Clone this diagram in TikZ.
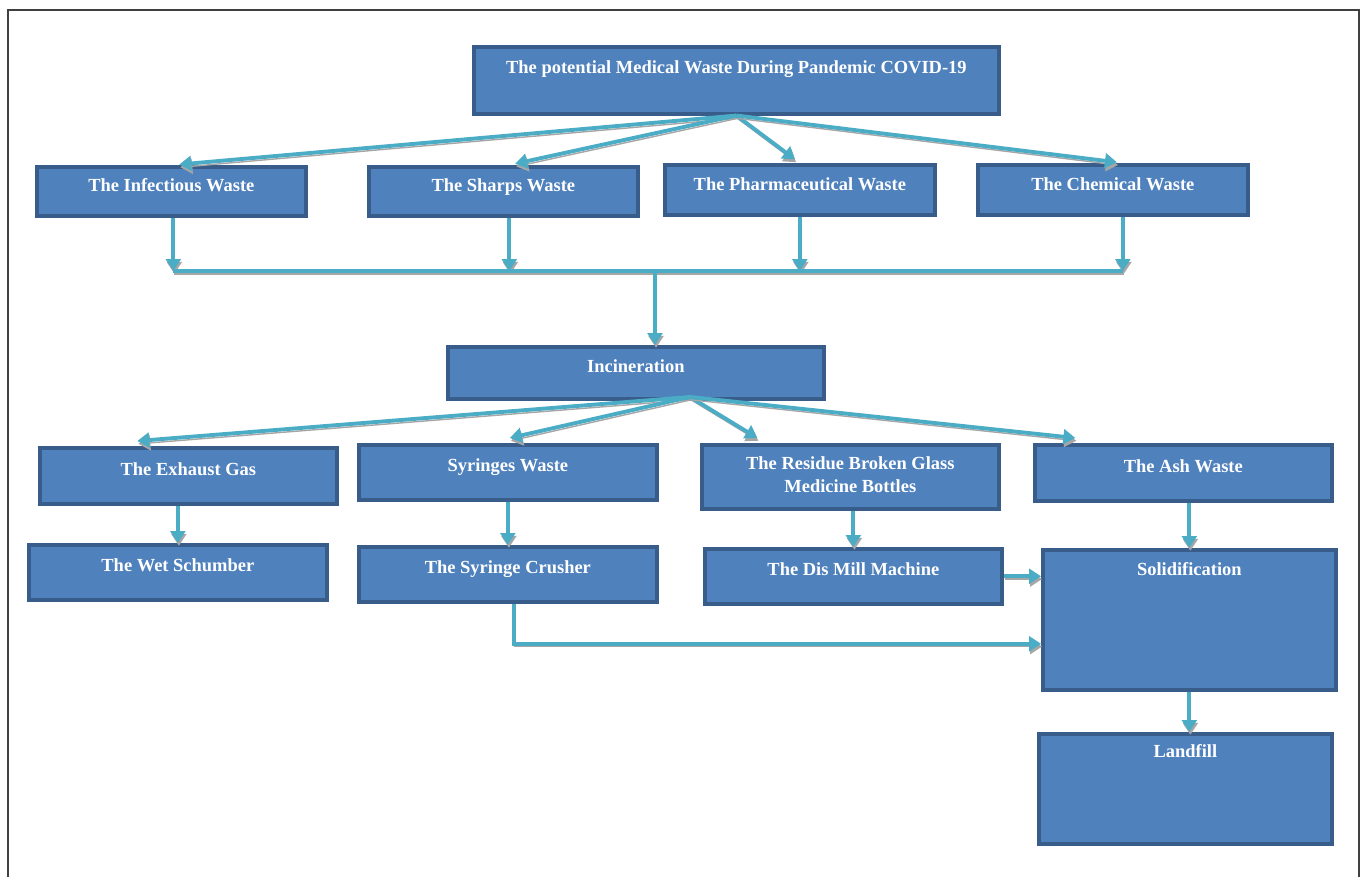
\documentclass[tikz,border=0pt]{standalone}
\usepackage{fontspec}
\setmainfont{Liberation Serif}
\usetikzlibrary{arrows.meta,positioning,calc}
\definecolor{boxfill}{HTML}{4F81BD}
\definecolor{boxline}{HTML}{385D8A}
\definecolor{flowcol}{HTML}{4BACC6}

\begin{document}
\begin{tikzpicture}[x=0.01cm,y=-0.01cm,
  box/.style={draw=boxline,fill=boxfill,line width=1pt,text=white,anchor=north west,
    inner sep=0pt,align=center,text depth=0.14cm,font=\fontsize{5.25}{6.5}\selectfont\bfseries},
  flowline/.style={draw=flowcol,line width=1.1pt,
    preaction={draw=black!35,transform canvas={shift={(0.3pt,-0.8pt)}}}},
  flow/.style={flowline,-{Triangle[length=3.4pt,width=4.2pt]}}]
\useasboundingbox (0,0) rectangle (1362,877);
\draw[black!75,line width=0.6pt] (8,877) -- (8,10) -- (1359,10) -- (1359,877);

% top level
\node[box,minimum width=5.25cm,text height=0.27cm,text depth=0.40cm] (top) at (472,45) {The potential Medical Waste During Pandemic COVID-19};
\node[box,minimum width=2.69cm,minimum height=0.49cm,text depth=0.12cm] (infect) at (35,165) {The Infectious Waste};
\node[box,minimum width=2.69cm,minimum height=0.49cm,text depth=0.12cm] (sharps) at (367,165) {The Sharps Waste};
\node[box,minimum width=2.70cm,minimum height=0.50cm,text depth=0.12cm] (pharma) at (663,163) {The Pharmaceutical Waste};
\node[box,minimum width=2.70cm,minimum height=0.50cm,text depth=0.12cm] (chem) at (976,163) {The Chemical Waste};

% incineration and its outputs
\node[box,minimum width=3.76cm,minimum height=0.52cm] (incin) at (446,345) {Incineration};
\node[box,minimum width=2.97cm,minimum height=0.56cm] (exhaust) at (38,446) {The Exhaust Gas};
\node[box,minimum width=2.98cm,minimum height=0.55cm] (syr) at (357,443) {Syringes Waste};
\node[box,minimum width=2.97cm,minimum height=0.64cm,text depth=0.04cm] (residue) at (700,443) {The Residue Broken Glass\\Medicine Bottles};
\node[box,minimum width=2.97cm,minimum height=0.56cm] (ash) at (1033,443) {The Ash Waste};

% treatment
\node[box,minimum width=2.98cm,minimum height=0.55cm] (wet) at (27,543) {The Wet Schumber};
\node[box,minimum width=2.98cm,minimum height=0.55cm] (crush) at (357,545) {The Syringe Crusher};
\node[box,minimum width=2.97cm,minimum height=0.55cm] (dismill) at (703,547) {The Dis Mill Machine};
\node[box,minimum width=2.93cm,text height=0.26cm,text depth=1.14cm] (solid) at (1041,548) {Solidification};
\node[box,minimum width=2.93cm,text height=0.24cm,text depth=0.86cm] (landfill) at (1037,732) {Landfill};

\coordinate (bus) at (655,271);
\coordinate (fan) at (690,397);

\foreach \b/\dx in {infect/2,sharps/6,pharma/0,chem/10}{
  \draw[flow,shorten >=1.7pt] (top.south) -- ($(\b.north)+(\dx,0)$);
  \draw[flow] ($(\b.south)+(\dx,0)$) -- ($(\b.south |- bus)+(\dx,0)$);
}
\draw[flowline] ($(infect.south |- bus)+(2,0)$) -- ($(chem.south |- bus)+(10,0)$);
\draw[flow] (bus) -- (bus |- incin.north);

\foreach \b/\dx in {exhaust/-51,syr/2,residue/-93,ash/-108}
  \draw[flow] (fan) -- ($(\b.north)+(\dx,-5)$);

\draw[flow] (wet.north |- exhaust.south) -- (wet.north);
\draw[flow] (syr.south) -- (crush.north);
\draw[flow] (dismill.north |- residue.south) -- (dismill.north);
\draw[flow] (solid.north |- ash.south) -- (solid.north);
\draw[flow] (dismill.east) -- (dismill.east -| solid.west);
\draw[flow] ($(crush.south)+(6,0)$) |- ($(solid.west)+(0,24)$);
\draw[flow] (solid.south) -- (solid.south |- landfill.north);
\end{tikzpicture}
\end{document}
